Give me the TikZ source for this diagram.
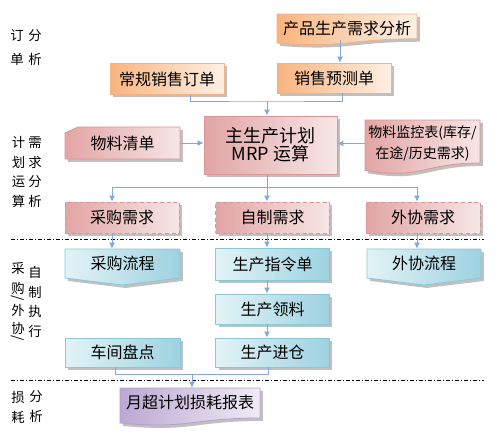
\documentclass[tikz,border=0pt]{standalone}
\usepackage{fontspec}
\setmainfont{Noto Sans CJK SC}
\usetikzlibrary{shadows,arrows.meta,calc}
\definecolor{orgD}{HTML}{F9B47F}
\definecolor{orgL}{HTML}{FEF0E4}
\definecolor{orgB}{HTML}{F4B183}
\definecolor{pnkD}{HTML}{E2A5A4}
\definecolor{pnkL}{HTML}{F7E6E6}
\definecolor{pnkB}{HTML}{D99694}
\definecolor{bluD}{HTML}{9DD2E1}
\definecolor{bluL}{HTML}{E2F3F7}
\definecolor{bluB}{HTML}{8CC7D8}
\definecolor{purD}{HTML}{BBA8D3}
\definecolor{purL}{HTML}{F0EBF5}
\definecolor{purB}{HTML}{B3A2C7}
\definecolor{lnC}{HTML}{7FA9DF}
\begin{document}
\begin{tikzpicture}[x=0.75pt,y=-0.75pt,
  shad/.style={drop shadow={shadow xshift=2.2pt,shadow yshift=-2.2pt,fill=black!45,opacity=0.55}},
  ofill/.style={draw=orgB,line width=0.6pt,left color=orgD,right color=orgL,shad},
  pfill/.style={draw=pnkB,line width=0.6pt,left color=pnkD,right color=pnkL,shad},
  bfill/.style={draw=bluB,line width=0.6pt,left color=bluL,right color=bluD,shad},
  ufill/.style={draw=purB,line width=0.6pt,left color=purD,right color=purL,shad},
  txt/.style={inner sep=0pt,align=center,font=\fontsize{12}{14}\selectfont,text=black},
  dash box/.style={dash pattern=on 3pt off 2pt},
  cl/.style={draw=lnC,line width=0.75pt},
  arr/.style={cl,-{Latex[length=4.5pt,width=4.5pt]}},
  sep/.style={draw=black,line width=0.6pt,dash pattern=on 3pt off 1.5pt on 0.8pt off 1.5pt},
  lbl/.style={inner sep=0pt,align=center}
]
\useasboundingbox (0,0) rectangle (502,440);

% ---------- left labels ----------
\node[lbl,font=\fontsize{10}{18}\selectfont] (la1) at (17,48) {订\\单};
\node[lbl,font=\fontsize{10}{18}\selectfont] (lb1) at (35,48) {分\\析};
\node[lbl,font=\fontsize{10}{14.6}\selectfont] (la2) at (18.5,172) {计\\划\\运\\算};
\node[lbl,font=\fontsize{10}{14.6}\selectfont] (lb2) at (35,172) {需\\求\\分\\析};
\node[lbl,font=\fontsize{10}{12}\selectfont] (la3a) at (18,268.5) {采};
\node[lbl,font=\fontsize{10}{12}\selectfont] (la3b) at (18,288) {购};
\node[lbl,font=\fontsize{10}{12}\selectfont,rotate=-90] (la3c) at (18,298.5) {/};
\node[lbl,font=\fontsize{10}{12}\selectfont] (la3d) at (18,310) {外};
\node[lbl,font=\fontsize{10}{12}\selectfont] (la3e) at (18,328) {协};
\node[lbl,font=\fontsize{10}{12}\selectfont,rotate=-90] (la3f) at (18,338) {/};
\node[lbl,font=\fontsize{10}{14.6}\selectfont] (lb3) at (35,302) {自\\制\\执\\行};
\node[lbl,font=\fontsize{10}{15}\selectfont] (la4) at (18,407) {损\\耗};
\node[lbl,font=\fontsize{10}{15}\selectfont] (lb4) at (36,407) {分\\析};

% ---------- separators ----------
\draw[sep] (11,239) -- (484,239);
\draw[sep] (11,380) -- (484,380);

% ---------- order analysis ----------
\path[ofill] (277,14) -- (417,14) -- (417,38.8) .. controls (347,38.8) and (347,48.3) .. (277,43) -- cycle;
\node[txt,minimum width=105pt,minimum height=18pt] (pd) at (347,28) {产品生产需求分析};
\node[txt,ofill,minimum width=85.5pt,minimum height=23.25pt] (cg) at (167,79) {常规销售订单};
\node[txt,ofill,minimum width=85.5pt,minimum height=22.5pt] (xs) at (334,78) {销售预测单};

% ---------- planning ----------
\node[txt,pfill,minimum width=99.75pt,minimum height=43.5pt,font=\fontsize{13.5}{13.5}\selectfont] (mrp) at (270.5,145) {主生产计划\\MRP 运算};
\path[pfill] (65,133) -- (78,127) -- (180,127) -- (180,159) -- (65,159) -- cycle;
\node[txt,minimum width=86.25pt,minimum height=24pt] (wl) at (122.5,143) {物料清单};
\path[pfill] (365,120) -- (480,120) -- (480,163) .. controls (422.5,163) and (422.5,179.8) .. (365,170.4) -- cycle;
\node[txt,minimum width=86.25pt,minimum height=30pt,font=\fontsize{10.5}{15.75}\selectfont] (jk) at (422.5,143.5) {物料监控表(库存/\\在途/历史需求)};

\node[txt,pfill,dash box,minimum width=85.5pt,minimum height=23.25pt] (cgxq) at (122,217.5) {采购需求};
\node[txt,pfill,dash box,minimum width=85pt,minimum height=23.25pt] (zzxq) at (272.5,217.5) {自制需求};
\node[txt,pfill,dash box,minimum width=85.5pt,minimum height=23.25pt] (wxxq) at (423,217.5) {外协需求};

% ---------- execution ----------
\path[bfill] (65,249) -- (180,249) -- (180,278) -- (122.5,285) -- (65,278) -- cycle;
\node[txt,minimum width=86.25pt,minimum height=21.75pt] (cglc) at (122.5,263.5) {采购流程};
\path[bfill] (367,249) -- (481,249) -- (481,278) -- (424,285) -- (367,278) -- cycle;
\node[txt,minimum width=85.5pt,minimum height=21.75pt] (wxlc) at (424,263.5) {外协流程};
\node[txt,bfill,minimum width=85pt,minimum height=24pt] (sczl) at (272.5,264) {生产指令单};
\node[txt,bfill,minimum width=85pt,minimum height=22.5pt] (scll) at (272.5,309) {生产领料};
\node[txt,bfill,minimum width=85pt,minimum height=21.75pt] (scjc) at (272.5,352.5) {生产进仓};
\node[txt,bfill,minimum width=86.25pt,minimum height=21.75pt] (cjpd) at (122.5,352.5) {车间盘点};

% ---------- loss analysis ----------
\path[ufill] (120,388) -- (260,388) -- (260,418) .. controls (190,418) and (190,429.5) .. (120,423) -- cycle;
\node[txt,minimum width=105pt,minimum height=21pt] (yb) at (190,402) {月超计划损耗报表};

% ---------- connectors ----------
\coordinate (cP) at (340,0);
\draw[arr] (pd.south -| cP) -- (xs.north -| cP);
\coordinate (j1) at (267,101);
\draw[cl] ($(cg.south)+(23,0)$) |- (j1) -| ($(xs.south)+(8,0)$);
\draw[arr] (j1) -- (j1 |- mrp.north);
\draw[arr] (wl.east) -- (wl.east -| mrp.west);
\draw[arr] (jk.west) -- (jk.west -| mrp.east);

\coordinate (cA) at (112,0);
\coordinate (cB) at (267,0);
\coordinate (cC) at (417,0);
\coordinate (j2) at (267,187);
\draw[cl] (mrp.south -| cB) -- (j2);
\draw[arr] (j2) -| (cgxq.north -| cA);
\draw[arr] (j2) -- (zzxq.north -| cB);
\draw[arr] (j2) -| (wxxq.north -| cC);

\draw[arr] (cgxq.south -| cA) -- (cglc.north -| cA);
\draw[arr] (zzxq.south -| cB) -- (sczl.north -| cB);
\draw[arr] (wxxq.south -| cC) -- (wxlc.north -| cC);
\draw[arr] (sczl.south -| cB) -- (scll.north -| cB);
\draw[arr] (scll.south -| cB) -- (scjc.north -| cB);

\coordinate (cD) at (115,0);
\coordinate (cE) at (268,0);
\coordinate (j3) at (192,374);
\draw[cl] (cjpd.south -| cD) |- (j3) -| (scjc.south -| cE);
\draw[arr] (j3) -- (j3 |- yb.north);
\end{tikzpicture}
\end{document}
